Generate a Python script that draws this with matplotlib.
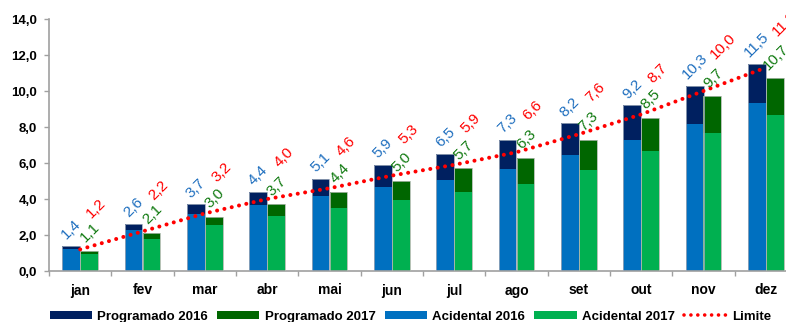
import numpy as np
import matplotlib
matplotlib.use("Agg")
import matplotlib.pyplot as plt
from matplotlib.lines import Line2D
from matplotlib.patches import Patch

plt.rcParams['font.family'] = ['Liberation Sans', 'DejaVu Sans']

months = ['jan', 'fev', 'mar', 'abr', 'mai', 'jun', 'jul', 'ago', 'set', 'out', 'nov', 'dez']
total_2016 = [1.4, 2.6, 3.7, 4.4, 5.1, 5.9, 6.5, 7.3, 8.2, 9.2, 10.3, 11.5]
acidental_2016 = [1.25, 2.27, 3.15, 3.67, 4.17, 4.69, 5.07, 5.68, 6.44, 7.26, 8.18, 9.33]
total_2017 = [1.1, 2.1, 3.0, 3.7, 4.4, 5.0, 5.7, 6.3, 7.3, 8.5, 9.7, 10.7]
acidental_2017 = [0.97, 1.79, 2.55, 3.03, 3.50, 3.97, 4.41, 4.86, 5.59, 6.67, 7.67, 8.64]
limite = [1.2, 2.2, 3.2, 4.0, 4.6, 5.3, 5.9, 6.6, 7.6, 8.7, 10.0, 11.3]
yticks = [0, 2, 4, 6, 8, 10, 12, 14]

c_prog16 = '#002060'
c_prog17 = '#006600'
c_acid16 = '#0070C0'
c_acid17 = '#00B050'
c_lim = '#FF0000'
c_lab16 = '#1F6FBF'
c_lab17 = '#117A11'

t16 = np.array(total_2016)
a16 = np.array(acidental_2016)
t17 = np.array(total_2017)
a17 = np.array(acidental_2017)

fig = plt.figure(figsize=(7.86, 3.22), dpi=100)
ax = fig.add_axes([49/786, (322-271)/322, 748/786, 252/322])

x = np.arange(len(months))
w = 0.284

ax.bar(x - w/2, a16, w, color=c_acid16, linewidth=0, zorder=2)
ax.bar(x - w/2, t16 - a16, w, bottom=a16, color=c_prog16, linewidth=0, zorder=2)
ax.bar(x + w/2, a17, w, color=c_acid17, linewidth=0, zorder=2)
ax.bar(x + w/2, t17 - a17, w, bottom=a17, color=c_prog17, linewidth=0, zorder=2)
ax.bar(x - w/2, t16, w, fill=False, edgecolor='#9AA6B8', linewidth=0.6, zorder=3)
ax.bar(x + w/2, t17, w, fill=False, edgecolor='#A8B8A8', linewidth=0.6, zorder=3)

ax.plot(x, limite, color=c_lim, linewidth=2.9, linestyle=(0, (0.01, 1.85)),
        dash_capstyle='round', zorder=4)

def fmt(v):
    return f"{v:.1f}".replace('.', ',')

lab_fs = 11
for i in range(len(months)):
    ax.annotate(fmt(t16[i]), (x[i] - w/2, t16[i]), xytext=(0, 4), textcoords='offset pixels',
                rotation=45, ha='center', va='bottom', color=c_lab16, fontsize=lab_fs,
                annotation_clip=False, zorder=5)
    ax.annotate(fmt(t17[i]), (x[i] + w/2, t17[i]), xytext=(1, 6), textcoords='offset pixels',
                rotation=45, ha='center', va='bottom', color=c_lab17, fontsize=lab_fs,
                annotation_clip=False, zorder=5)
    ax.annotate(fmt(limite[i]), (x[i], limite[i]), xytext=(4, 29), textcoords='offset pixels',
                rotation=45, ha='left', va='bottom', color=c_lim, fontsize=lab_fs,
                annotation_clip=False, zorder=5)

ax.set_xlim(-0.5, len(months) - 0.5)
ax.set_ylim(0, 14)
ax.set_yticks(yticks)
ax.set_yticklabels([fmt(v) for v in yticks], fontsize=9.5, fontweight='bold')
ax.set_xticks(x)
ax.set_xticklabels(months, fontsize=10, fontweight='bold')
ax.set_xticks(np.arange(-0.5, len(months), 1.0), minor=True)
ax.tick_params(axis='x', which='major', length=0, pad=9)
ax.tick_params(axis='x', which='minor', length=3.5, width=1, color='#A0A0A0', direction='out')
ax.tick_params(axis='y', length=3.6, width=1, color='#A0A0A0', direction='out', pad=5)

for s in ['top', 'right']:
    ax.spines[s].set_visible(False)
for s in ['left', 'bottom']:
    ax.spines[s].set_color('#A0A0A0')
    ax.spines[s].set_linewidth(1.2)

handles = [Patch(facecolor=c_prog16), Patch(facecolor=c_prog17),
           Patch(facecolor=c_acid16), Patch(facecolor=c_acid17),
           Line2D([0], [0], color=c_lim, linewidth=2.6, linestyle=(0, (0.01, 1.9)),
                  dash_capstyle='round')]
labels = ['Programado 2016', 'Programado 2017', 'Acidental 2016', 'Acidental 2017', 'Limite']
leg = fig.legend(handles, labels, loc='center', bbox_to_anchor=(0.522, 0.017),
                 ncol=5, frameon=False, borderpad=0, handlelength=3.2, handleheight=0.5,
                 handletextpad=0.4, columnspacing=0.7,
                 prop={'weight': 'bold', 'size': 9.5})

fig.savefig('out.png', dpi=100)
